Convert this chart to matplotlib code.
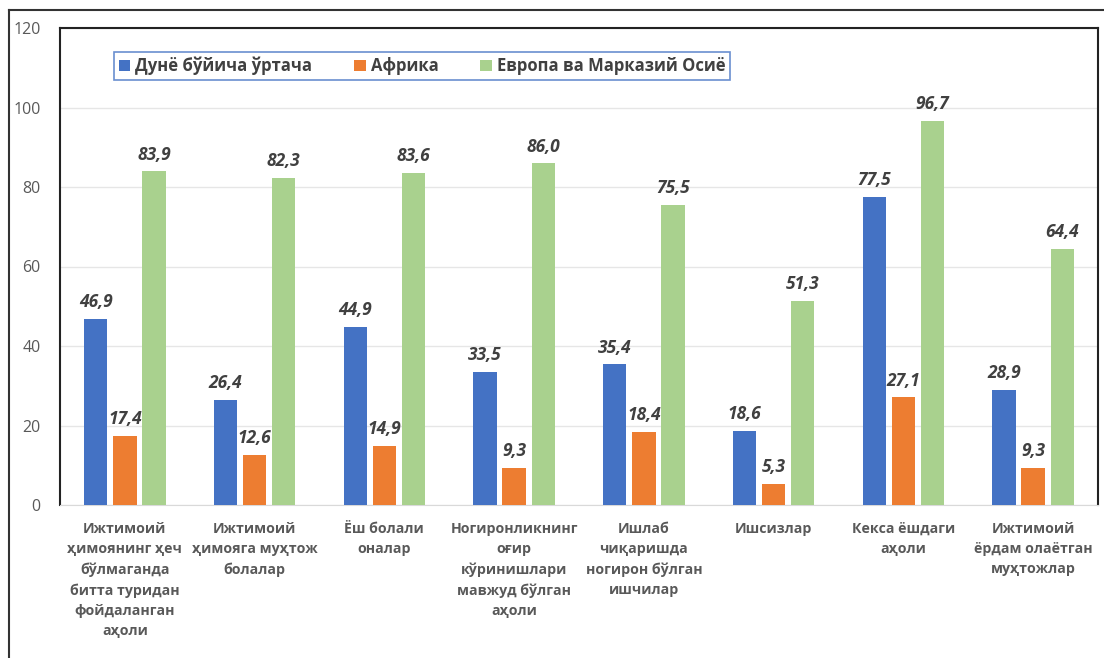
import numpy as np
import matplotlib.pyplot as plt
from matplotlib.lines import Line2D

categories = [
    "Ижтимоий\nҳимоянинг ҳеч\nбўлмаганда\nбитта туридан\nфойдаланган\nаҳоли",
    "Ижтимоий\nҳимояга муҳтож\nболалар",
    "Ёш болали\nоналар",
    "Ногиронликнинг\nоғир\nкўринишлари\nмавжуд бўлган\nаҳоли",
    "Ишлаб\nчиқаришда\nногирон бўлган\nишчилар",
    "Ишсизлар",
    "Кекса ёшдаги\nаҳоли",
    "Ижтимоий\nёрдам олаётган\nмуҳтожлар",
]
series_names = ["Дунё бўйича ўртача", "Африка", "Европа ва Марказий Осиё"]
world = [46.9, 26.4, 44.9, 33.5, 35.4, 18.6, 77.5, 28.9]
africa = [17.4, 12.6, 14.9, 9.3, 18.4, 5.3, 27.1, 9.3]
europe = [83.9, 82.3, 83.6, 86.0, 75.5, 51.3, 96.7, 64.4]
colors = ["#4472C4", "#ED7D31", "#A9D18E"]

plt.rcParams['font.family'] = ['Open Sans', 'DejaVu Sans']

fig = plt.figure(figsize=(11.04, 6.58), dpi=100)
ax = fig.add_axes([60 / 1104, 1 - 505 / 658, 1038 / 1104, 477 / 658])

x = np.arange(len(categories))
w = 0.18
offs = [-0.225, 0, 0.225]
for vals, off, c, name in zip([world, africa, europe], offs, colors, series_names):
    bars = ax.bar(x + off, vals, width=w, color=c, label=name, zorder=3)
    for b, v in zip(bars, vals):
        ax.annotate(f"{v:.1f}".replace(".", ","), (b.get_x() + b.get_width() / 2, v),
                    xytext=(0, 5.5), textcoords="offset points", ha="center", va="bottom",
                    fontsize=12.5, fontweight="bold", fontstyle="italic", color="#404040")

ax.set_xlim(-0.5, len(categories) - 0.5)
ax.set_ylim(0, 120)
ax.set_yticks(range(0, 121, 20))
ax.yaxis.grid(True, color="#E6E6E6", linewidth=1, zorder=0)
ax.tick_params(axis="y", length=0, pad=14, labelsize=11.5, labelcolor="#595959")
ax.tick_params(axis="x", length=0, pad=12)
ax.set_xticks(x)
ax.set_xticklabels(categories, fontsize=10.2, fontweight="bold", color="#595959", linespacing=1.56)
for s in ["left", "top", "right"]:
    ax.spines[s].set_color("#222222")
    ax.spines[s].set_linewidth(1.5)
ax.spines["bottom"].set_color("#D9D9D9")

leg = ax.legend(loc="center", bbox_to_anchor=(422 / 1104, 1 - 66 / 658), bbox_transform=fig.transFigure,
                ncol=3, frameon=True, fancybox=False, handlelength=0.7, handleheight=0.7,
                handletextpad=0.3, columnspacing=2.5, borderpad=0.3,
                prop={"size": 12, "weight": "bold"})
leg.get_frame().set_edgecolor("#4472C4")
leg.get_frame().set_linewidth(1.2)
for t in leg.get_texts():
    t.set_color("#404040")

# outer frame (left and top edges)
fig.add_artist(Line2D([9 / 1104, 9 / 1104], [0, 1 - 10 / 658], color="#333333", lw=1.5))
fig.add_artist(Line2D([9 / 1104, 1], [1 - 10 / 658, 1 - 10 / 658], color="#333333", lw=1.5))

plt.savefig("out.png", dpi=100)
